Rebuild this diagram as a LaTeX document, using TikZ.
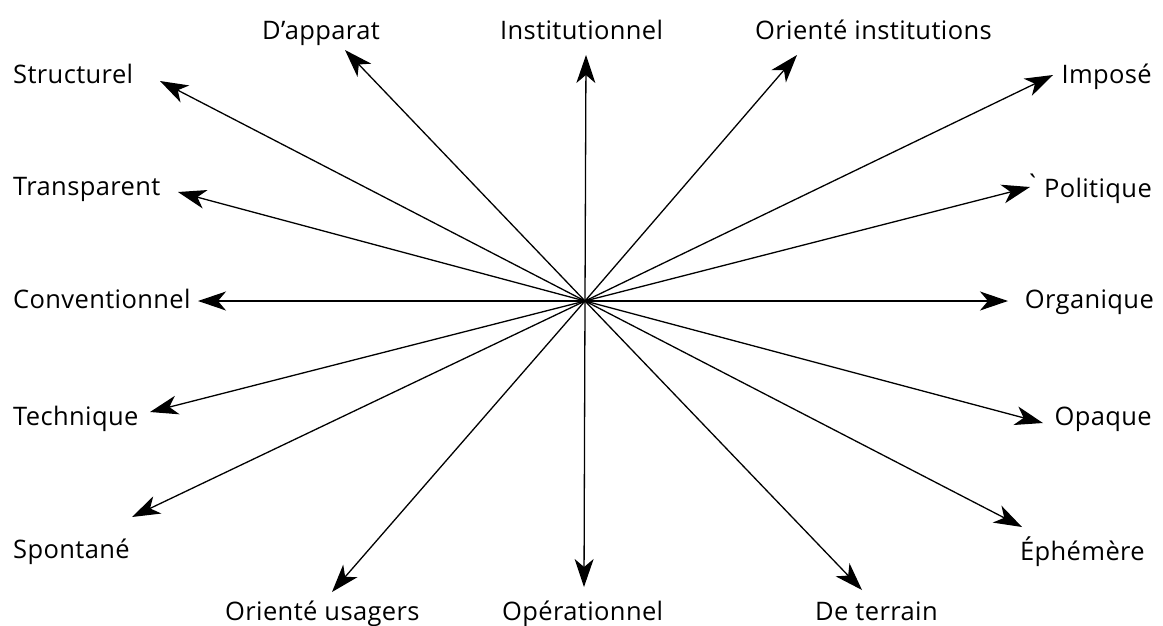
\documentclass[tikz,border=0pt]{standalone}
\usepackage{fontspec}
\setmainfont{Open Sans}[LetterSpace=1.5]
\usetikzlibrary{arrows.meta}
\begin{document}
\begin{tikzpicture}[x=1pt,y=-1pt,
  lab/.style={inner sep=0pt,font=\fontsize{25.5}{30}\selectfont},
  arr/.style={line width=1.3pt,-{Stealth[length=28pt,width=19pt,inset=8pt]}}]
\useasboundingbox (0,0) rectangle (1163,625);
\coordinate (c) at (585,301);
% tips
\coordinate (tStr) at (160,81);
\coordinate (tApp) at (345,50);
\coordinate (tIns) at (586,55);
\coordinate (tOIn) at (797,55);
\coordinate (tImp) at (1053,75);
\coordinate (tPol) at (1030,187);
\coordinate (tOrg) at (1008,301);
\coordinate (tOpa) at (1043,423);
\coordinate (tEph) at (1022,527);
\coordinate (tTer) at (862,590);
\coordinate (tOpe) at (584,587);
\coordinate (tOUs) at (332,592);
\coordinate (tSpo) at (132,517);
\coordinate (tTec) at (150,412);
\coordinate (tCon) at (198,301);
\coordinate (tTra) at (178,192);
% labels
\node[lab,anchor=base west] (lStr) at (13,83) {Structurel};
\node[lab,anchor=base west] (lTra) at (13,195) {Transparent};
\node[lab,anchor=base west] (lCon) at (13,308) {Conventionnel};
\node[lab,anchor=base west] (lTec) at (13,425) {Technique};
\node[lab,anchor=base west] (lSpo) at (13,558) {Spontané};
\node[lab,anchor=base west] (lApp) at (262,39) {D’apparat};
\node[lab,anchor=base west] (lIns) at (500,39) {Institutionnel};
\node[lab,anchor=base west] (lOIn) at (755,39) {Orienté institutions};
\node[lab,anchor=base east] (lImp) at (1152,83) {Imposé};
\node[lab,anchor=base east] (lPol) at (1152,197) {\raisebox{4pt}{\textasciigrave}\hspace{4pt}Politique};
\node[lab,anchor=base east] (lOrg) at (1154,308) {Organique};
\node[lab,anchor=base east] (lOpa) at (1152,425) {Opaque};
\node[lab,anchor=base east] (lEph) at (1145,560) {Éphémère};
\node[lab,anchor=base west] (lTer) at (815,620) {De terrain};
\node[lab,anchor=base west] (lOpe) at (502,620) {Opérationnel};
\node[lab,anchor=base west] (lOUs) at (225,620) {Orienté usagers};
% arrows
\foreach \t in {tStr,tApp,tIns,tOIn,tImp,tPol,tOrg,tOpa,tEph,tTer,tOpe,tOUs,tSpo,tTec,tCon,tTra}
  \draw[arr] (c) -- (\t);
\end{tikzpicture}
\end{document}
